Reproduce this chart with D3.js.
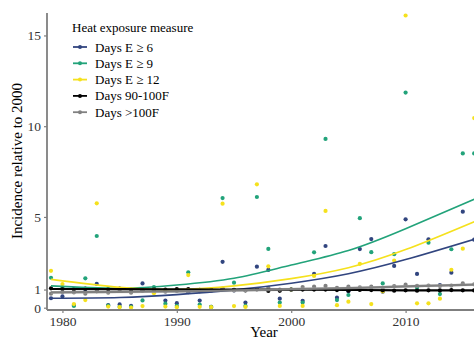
<!DOCTYPE html>
<html>
<head>
<meta charset="utf-8">
<script src="https://cdn.jsdelivr.net/npm/d3@7"></script>
<style>
  body { margin: 0; background: #fff; }
  svg, svg text { font-family: "Liberation Serif", "DejaVu Serif", serif; }
  svg { display: block; }
</style>
</head>
<body>
<svg id="chart" width="474" height="340"></svg>
<script>
// Years observed.
const years = [1979, 1980, 1981, 1982, 1983, 1984, 1985, 1986, 1987, 1988,
  1989, 1990, 1991, 1992, 1993, 1994, 1995, 1996, 1997, 1998,
  1999, 2000, 2001, 2002, 2003, 2004, 2005, 2006, 2007, 2008,
  2009, 2010, 2011, 2012, 2013, 2014, 2015, 2016];

// Incidence relative to 2000, one value per year.
const daysE6 = [0.52, 0.62, 0.15, 1.0, 1.31, 0.15, 0.18, 0.1, 1.34, 0.9,
  0.39, 0.25, 0.85, 0.39, 0.04, 2.53, 0.95, 0.28, 2.26, 2.08,
  0.5, 1, 0.38, 1.86, 3.4, 0.55, 0.9, 3.23, 3.78, 0.88,
  2.3, 4.87, 1.86, 3.77, 1.25, 1.93, 5.29, 3.75];
const daysE9 = [1.65, 1.1, 0.1, 1.62, 3.95, 0.12, 0.05, 0.05, 0.4, 1.14,
  0.22, 0.1, 1.95, 0.17, 0.04, 6.04, 1.38, 0.1, 6.1, 3.24,
  0.28, 1, 0.28, 3.05, 9.3, 0.42, 0.7, 4.93, 3.06, 1.34,
  2.95, 11.85, 1.1, 3.58, 0.75, 3.22, 8.5, 8.5];
const daysE12 = [2.03, 1.3, 0.2, 0.42, 5.75, 0.06, 0.03, 0.01, 0.09, 0.79,
  0.06, 0.03, 1.8, 0.05, 0.03, 5.73, 0.09, 0.04, 6.8, 2.28,
  0.1, 1, 0.1, 1.75, 5.33, 0.14, 0.33, 2.42, 0.2, 0.9,
  2.6, 16.1, 0.24, 0.24, 0.5, 2.09, 3.25, 10.45];
const days90 = [1.07, 1.03, 1.02, 1.05, 1.0, 1.02, 1.05, 1.0, 0.98, 1.02,
  1.0, 1.03, 1.02, 0.98, 1.0, 1.02, 0.98, 0.95, 1.02, 0.92,
  0.93, 1, 1.0, 1.0, 1.0, 0.97, 0.94, 0.98, 0.97, 0.96,
  0.94, 0.96, 0.94, 0.96, 0.95, 0.97, 0.96, 0.95];
const days100 = [0.77, 0.85, 0.84, 0.77, 0.9, 0.83, 0.98, 0.83, 0.92, 0.95,
  0.88, 0.92, 0.95, 0.9, 0.92, 1.05, 0.95, 0.97, 1.0, 1.1,
  1.0, 1, 1.14, 1.16, 1.2, 1.1, 1.16, 1.12, 1.16, 1.1,
  1.19, 1.27, 1.21, 1.22, 1.2, 1.22, 1.34, 1.29];

// Smoothed trend, read at a few years.
const fitYears = [1979, 1985, 1990, 1995, 2000, 2005, 2010, 2016];
const fitE6 = [0.52, 0.56, 0.72, 0.98, 1.35, 1.87, 2.65, 3.77];
const fitE9 = [1.2, 1.07, 1.25, 1.62, 2.35, 3.15, 4.35, 5.97];
const fitE12 = [1.56, 1.12, 1.0, 1.2, 1.6, 2.2, 3.2, 4.74];
const fit90 = [1.03, 1.02, 1.01, 1.0, 0.99, 0.98, 0.96, 0.95];
const fit100 = [0.84, 0.87, 0.9, 0.95, 1.02, 1.08, 1.17, 1.27];

const seriesNames = ["Days E \u2265 6", "Days E \u2265 9", "Days E \u2265 12", "Days 90-100F", "Days >100F"];
const colors = ["#31457f", "#22a37a", "#f5e11d", "#000000", "#808080"];
const yTicks = [0, 1, 5, 10, 15];
const xTicks = [1980, 1990, 2000, 2010];

const series = [
  { name: seriesNames[0], values: daysE6, fit: fitE6 },
  { name: seriesNames[1], values: daysE9, fit: fitE9 },
  { name: seriesNames[2], values: daysE12, fit: fitE12 },
  { name: seriesNames[3], values: days90, fit: fit90 },
  { name: seriesNames[4], values: days100, fit: fit100 }
];

const serif = "Liberation Serif, DejaVu Serif, serif";
const svg = d3.select("#chart");
const panel = { left: 47, top: 13, bottom: 310 };

const x = d3.scaleLinear().domain([1979, 2010]).range([51, 405.6]);
const y = d3.scaleLinear().domain([0, 15]).range([307.7, 35.45]);

svg.append("clipPath").attr("id", "clip")
  .append("rect")
  .attr("x", panel.left).attr("y", panel.top)
  .attr("width", 500).attr("height", panel.bottom - panel.top);

const plot = svg.append("g").attr("clip-path", "url(#clip)");

// Points.
series.forEach((s, i) => {
  plot.append("g")
    .attr("fill", colors[i])
    .selectAll("circle")
    .data(s.values)
    .join("circle")
      .attr("cx", (d, j) => x(years[j]))
      .attr("cy", d => y(d))
      .attr("r", 2.1);
});

// Trend lines.
const line = d3.line()
  .curve(d3.curveNatural)
  .x((d, j) => x(fitYears[j]))
  .y(d => y(d));

const band = d3.area()
  .curve(d3.curveNatural)
  .x((d, j) => x(fitYears[j]))
  .y0(d => y(d - 0.08))
  .y1(d => y(d + 0.08));

plot.append("path")
  .datum(fit100)
  .attr("fill", "#bdbdbd")
  .attr("opacity", 0.6)
  .attr("d", band);

series.forEach((s, i) => {
  plot.append("path")
    .datum(s.fit)
    .attr("fill", "none")
    .attr("stroke", colors[i])
    .attr("stroke-width", i >= 3 ? 2.2 : 1.6)
    .attr("d", line);
});

// Axes.
const axisColor = "#7f7f7f";

const yAxis = svg.append("g")
  .attr("transform", `translate(${panel.left},0)`)
  .call(d3.axisLeft(y).tickValues(yTicks).tickSize(3).tickPadding(3));
yAxis.select(".domain").remove();
svg.append("line")
  .attr("x1", panel.left).attr("x2", panel.left)
  .attr("y1", panel.top).attr("y2", panel.bottom)
  .attr("stroke", axisColor).attr("stroke-width", 1.8);

const xAxis = svg.append("g")
  .attr("transform", `translate(0,${panel.bottom})`)
  .call(d3.axisBottom(x).tickValues(xTicks).tickFormat(d3.format("d")).tickSize(3).tickPadding(3));
xAxis.select(".domain").remove();
svg.append("line")
  .attr("x1", panel.left).attr("x2", 474)
  .attr("y1", panel.bottom).attr("y2", panel.bottom)
  .attr("stroke", axisColor).attr("stroke-width", 1.8);

[xAxis, yAxis].forEach(g => g.attr("font-family", serif).attr("font-size", 13.5));
svg.selectAll(".tick line").attr("stroke", axisColor).attr("stroke-width", 1.2);
svg.selectAll(".tick text")
  .attr("fill", "#333")
  .attr("font-family", serif);

// Axis titles.
svg.append("text")
  .attr("x", 264).attr("y", 337)
  .attr("text-anchor", "middle")
  .attr("font-family", serif)
  .attr("font-size", 15)
  .text("Year");

svg.append("text")
  .attr("transform", `translate(22,161) rotate(-90)`)
  .attr("text-anchor", "middle")
  .attr("font-family", serif)
  .attr("font-size", 15)
  .text("Incidence relative to 2000");

// Legend.
const legend = svg.append("g")
  .attr("font-family", serif)
  .attr("font-size", 13);

legend.append("text")
  .attr("x", 72).attr("y", 32)
  .text("Heat exposure measure");

const item = legend.selectAll("g.item")
  .data(series)
  .join("g")
    .attr("class", "item")
    .attr("transform", (d, i) => `translate(0,${47 + i * 16.3})`);

item.append("line")
  .attr("x1", 73).attr("x2", 87)
  .attr("stroke", (d, i) => colors[i])
  .attr("stroke-width", 1.8);
item.append("circle")
  .attr("cx", 80).attr("r", 2)
  .attr("fill", (d, i) => colors[i]);
item.append("text")
  .attr("x", 95).attr("y", 4.5)
  .text(d => d.name);
</script>
</body>
</html>
